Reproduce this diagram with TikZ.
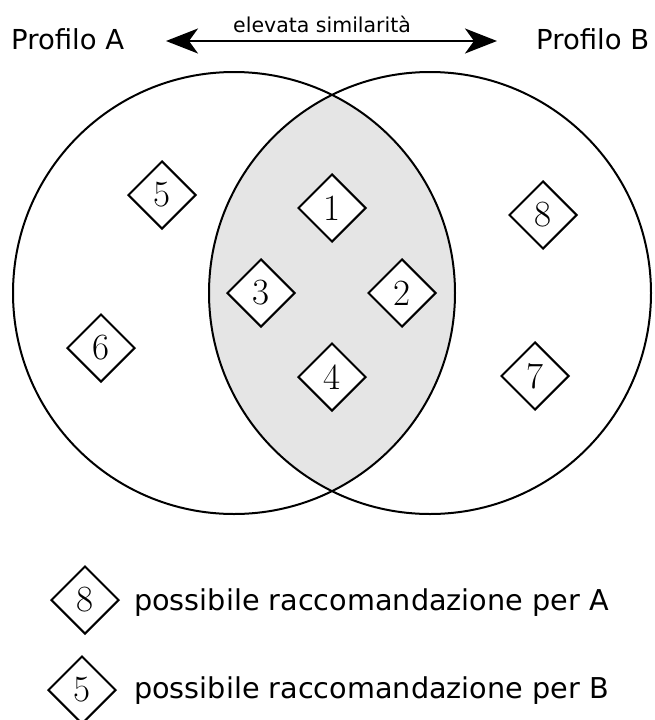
\documentclass[tikz,border=0pt]{standalone}
\usepackage{fontspec}
\newfontfamily\dvs{DejaVu Sans}
\usetikzlibrary{shapes.geometric,arrows.meta}
\begin{document}
\begin{tikzpicture}[x=1pt,y=-1pt,
  circ/.style={line width=2pt},
  dia/.style={diamond,draw,line width=2pt,fill=white,minimum width=68pt,minimum height=68pt,inner sep=0pt,font=\fontsize{37}{40}\selectfont},
  lab/.style={font=\dvs\fontsize{28.7}{32}\selectfont,inner sep=0pt,anchor=base west},
  head/.style={font=\dvs\fontsize{27.5}{32}\selectfont,inner sep=0pt,anchor=base west},
  small/.style={font=\dvs\fontsize{20.5}{24}\selectfont,inner sep=0pt,anchor=base west}]
\useasboundingbox (0,0) rectangle (654,720);
\fill[white] (0,0) rectangle (654,720);
% lens
\begin{scope}
  \clip (234,293) circle[radius=221];
  \fill[black!10] (430,293) circle[radius=221];
\end{scope}
\draw[circ] (234,293) circle[radius=221];
\draw[circ] (430,293) circle[radius=221];
% header
\node[head] (pa) at (11,49) {Profilo A};
\node[head] (pb) at (536,49) {Profilo B};
\node[small] (sim) at (233,32) {elevata similarità};
\coordinate (al) at (166,41);
\coordinate (ar) at (497,41);
\draw[line width=2pt,{Stealth[length=32pt,width=25pt,inset=9pt]}-{Stealth[length=32pt,width=25pt,inset=9pt]}] (al) -- (ar);
% items
\node[dia] (n1) at (332,208) {1};
\node[dia] (n2) at (402,293) {2};
\node[dia] (n3) at (261,293) {3};
\node[dia] (n4) at (332,377) {4};
\node[dia] (n5) at (162,195) {5};
\node[dia] (n6) at (101,348) {6};
\node[dia] (n7) at (535,376) {7};
\node[dia] (n8) at (543,215) {8};
% legend
\node[dia] (l8) at (85,600) {8};
\node[lab] (t8) at (134,610) {possibile raccomandazione per A};
\node[dia] (l5) at (82,690) {5};
\node[lab] (t5) at (134,698) {possibile raccomandazione per B};
\end{tikzpicture}
\end{document}
